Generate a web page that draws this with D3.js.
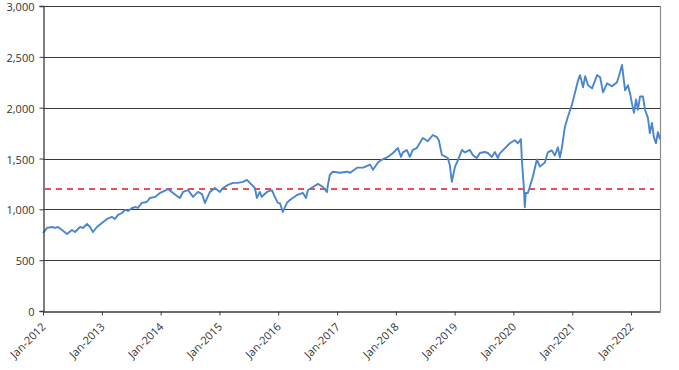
<!DOCTYPE html>
<html><head><meta charset="utf-8">
<script src="https://cdn.jsdelivr.net/npm/d3@7"></script>
<style>
body{margin:0;background:#fff;}
svg{display:block;font-family:"Open Sans",sans-serif;}
</style></head>
<body><svg id="chart" width="679" height="370"></svg>
<script>
const dates = ["2012-01-02","2012-01-26","2012-02-26","2012-03-16","2012-04-03","2012-04-28","2012-05-29","2012-06-29","2012-07-18","2012-08-18","2012-09-05","2012-10-01","2012-10-19","2012-11-06","2012-12-01",
"2013-01-01","2013-02-02","2013-03-05","2013-03-23","2013-04-11","2013-05-06","2013-05-24","2013-06-12","2013-07-07","2013-07-31","2013-08-12","2013-09-06","2013-10-07","2013-10-27","2013-11-27","2013-12-28",
"2014-01-22","2014-02-16","2014-03-19","2014-04-13","2014-05-01","2014-05-20","2014-06-20","2014-07-21","2014-08-21","2014-09-15","2014-10-03","2014-11-03","2014-12-04",
"2015-01-04","2015-01-23","2015-02-23","2015-03-26","2015-04-26","2015-05-27","2015-06-21","2015-07-09","2015-08-09","2015-08-22","2015-09-09","2015-09-21","2015-10-23","2015-11-23","2015-12-11","2015-12-30",
"2016-01-12","2016-01-30","2016-02-24","2016-03-14","2016-04-27","2016-06-03","2016-06-22","2016-07-04","2016-08-04","2016-09-04","2016-10-05","2016-10-30","2016-11-05","2016-11-17","2016-12-06",
"2017-01-19","2017-03-04","2017-03-23","2017-05-05","2017-06-12","2017-07-25","2017-08-12","2017-09-12","2017-10-07","2017-11-07","2017-12-14",
"2018-01-14","2018-02-02","2018-02-14","2018-03-10","2018-03-29","2018-04-16","2018-05-11","2018-05-30","2018-06-18","2018-07-19","2018-08-19","2018-09-13","2018-09-25","2018-10-14","2018-11-02","2018-11-20","2018-12-02","2018-12-15",
"2019-01-03","2019-01-22","2019-02-16","2019-03-06","2019-04-06","2019-04-24","2019-05-19","2019-06-07","2019-07-08","2019-07-27","2019-08-20","2019-09-08","2019-09-27","2019-10-09","2019-11-09","2019-12-10",
"2020-01-10","2020-01-29","2020-02-17","2020-02-23","2020-03-06","2020-03-12","2020-03-18","2020-03-31","2020-04-12","2020-05-01","2020-05-26","2020-06-14","2020-07-15","2020-08-02","2020-08-27","2020-09-15","2020-10-04","2020-10-16","2020-10-29","2020-11-16","2020-12-05","2020-12-30",
"2021-01-18","2021-02-06","2021-02-18","2021-03-09","2021-03-22","2021-04-09","2021-05-04","2021-06-04","2021-06-23","2021-07-11","2021-08-05","2021-09-05","2021-10-06","2021-10-25","2021-11-06","2021-11-25","2021-12-13","2021-12-26",
"2022-01-07","2022-01-19","2022-02-01","2022-02-13","2022-02-26","2022-03-16","2022-03-29","2022-04-16","2022-04-28","2022-05-11","2022-05-23","2022-06-05","2022-06-17","2022-06-30"];
const values = [767,817,826,817,826,797,758,797,777,826,817,856,826,777,826,
866,905,925,905,945,964,994,984,1013,1023,1013,1063,1072,1112,1122,1161,
1180,1200,1161,1130,1112,1171,1190,1122,1171,1150,1063,1171,1210,
1171,1210,1240,1260,1260,1270,1289,1260,1210,1112,1171,1122,1171,1190,1122,1063,
1060,974,1063,1092,1141,1161,1112,1190,1220,1250,1220,1170,1240,1340,1370,
1360,1370,1360,1410,1410,1440,1390,1460,1490,1510,1554,
1603,1515,1560,1584,1515,1584,1603,1653,1702,1670,1731,1710,1680,1535,1520,1505,1436,1270,
1417,1485,1584,1560,1584,1535,1505,1554,1564,1554,1515,1564,1505,1550,1600,1650,
1680,1650,1690,1480,1220,1020,1160,1160,1220,1320,1490,1420,1460,1560,1580,1530,1610,1510,1610,1810,1910,2030,
2150,2270,2320,2200,2310,2220,2190,2320,2300,2150,2240,2210,2250,2350,2420,2170,2220,2140,
2040,1950,2080,1980,2110,2110,1980,1900,1750,1850,1710,1650,1760,1690];
const yTicks = [0,500,1000,1500,2000,2500,3000];
const xTickYears = [2012,2013,2014,2015,2016,2017,2018,2019,2020,2021,2022];
const threshold = [1200];

const W = 679, H = 370;
const m = {left:43, right:19, top:6, bottom:59};
const svg = d3.select("#chart");
const parse = d3.timeParse("%Y-%m-%d");
const data = dates.map((d,i)=>({date:parse(d), value:values[i]}));

const x = d3.scaleTime().domain([new Date(2012,0,1), new Date(2022,5,30)]).range([m.left, W-m.right]);
const y = d3.scaleLinear().domain([0,3000]).range([H-m.bottom, m.top]);

// gridlines
svg.append("g").selectAll("line").data(yTicks.filter(v=>v>0)).join("line")
  .attr("x1", m.left).attr("x2", W-m.right)
  .attr("y1", d=>Math.round(y(d))+0.5).attr("y2", d=>Math.round(y(d))+0.5)
  .attr("stroke","#3a3a3a").attr("stroke-width",1);

// right border
svg.append("line").attr("x1",W-m.right+0.5).attr("x2",W-m.right+0.5)
  .attr("y1",y(3000)).attr("y2",y(0)).attr("stroke","#8c8c8c").attr("stroke-width",1.2);

// threshold
svg.append("g").selectAll("line").data(threshold).join("line")
  .attr("x1", m.left+2).attr("x2", W-m.right-6)
  .attr("y1", d=>y(d)).attr("y2", d=>y(d))
  .attr("stroke","#e8141c").attr("stroke-width",1.6).attr("stroke-dasharray","6,5");

// line
svg.append("path").datum(data)
  .attr("fill","none").attr("stroke","#4a86cf").attr("stroke-width",1.9).attr("stroke-linejoin","round")
  .attr("d", d3.line().x(d=>x(d.date)).y(d=>y(d.value)));

// y axis
const yAxis = svg.append("g").attr("transform",`translate(${m.left+0.5},0)`)
  .call(d3.axisLeft(y).tickValues(yTicks).tickFormat(d3.format(",")).tickSize(4).tickPadding(5));
yAxis.select(".domain").attr("stroke","#3a3a3a").attr("stroke-width",1.3);
yAxis.selectAll(".tick line").attr("stroke","#3a3a3a");
yAxis.selectAll("text").attr("fill","#333").attr("dy","0.42em").style("font-size","11px").style("font-family","'Open Sans',sans-serif");

// x axis
const xAxis = svg.append("g").attr("transform",`translate(0,${H-m.bottom+0.5})`)
  .call(d3.axisBottom(x).tickValues(xTickYears.map(yr=>new Date(yr,0,1))).tickFormat(d3.timeFormat("%b-%Y")).tickSize(4).tickSizeOuter(0));
xAxis.select(".domain").attr("stroke","#3a3a3a").attr("stroke-width",1.5);
xAxis.selectAll(".tick line").attr("stroke","#3a3a3a");
xAxis.selectAll("text").attr("fill","#333").style("font-size","11px").style("font-family","'Open Sans',sans-serif")
  .attr("text-anchor","end").attr("dy",null).attr("y",null)
  .attr("transform","translate(3,16) rotate(-45)");
</script></body></html>
